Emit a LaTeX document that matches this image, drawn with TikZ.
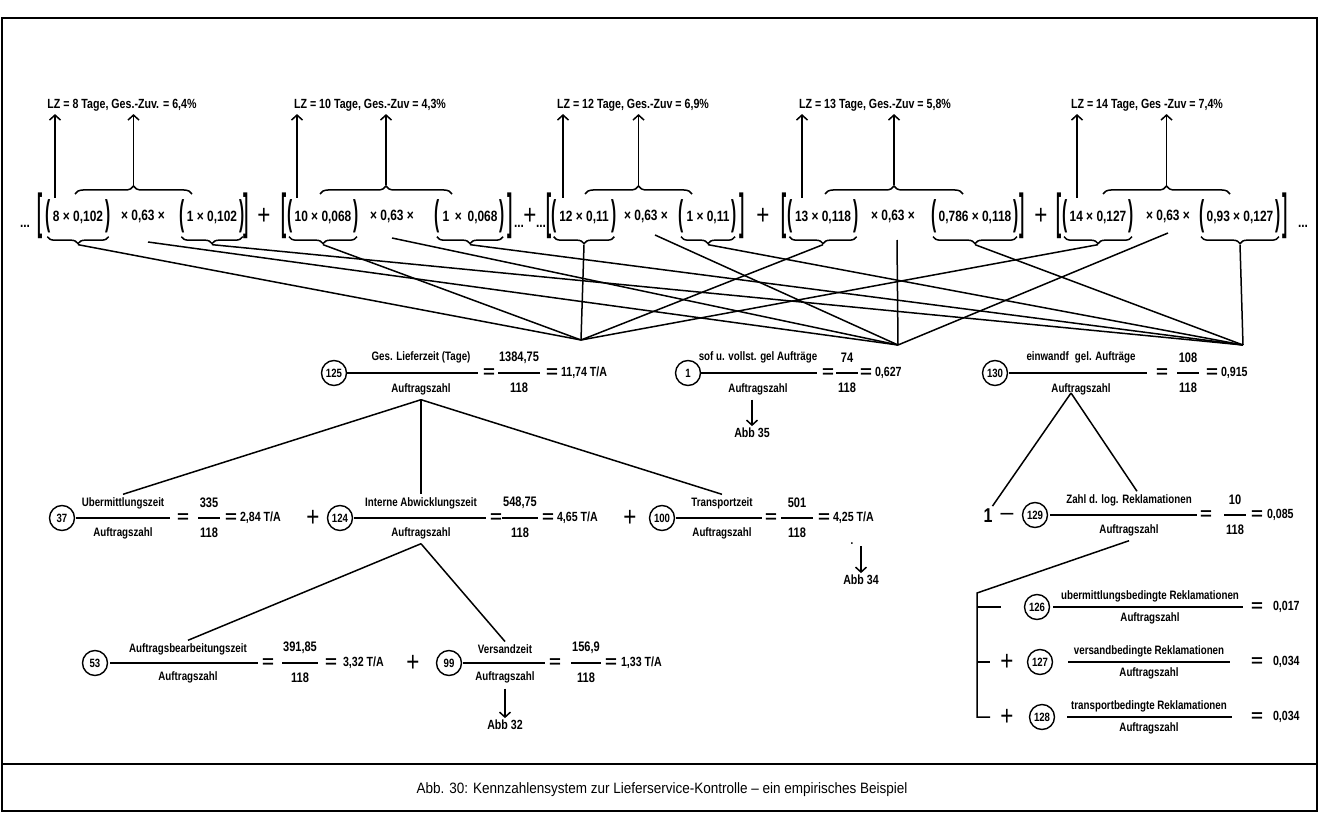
\documentclass[tikz,border=0pt]{standalone}
\usepackage{fix-cm}
\usepackage{fontspec}
\setmainfont{Liberation Sans}[FakeStretch=0.8]
\newfontfamily\bff{Liberation Sans Bold}[FakeStretch=0.8]
\newfontfamily\capfont{Liberation Sans}[FakeStretch=0.9]
\usetikzlibrary{decorations.pathreplacing,arrows.meta}
\newcommand\lp{\raisebox{-4pt}{\scalebox{1.3}[2.4]{(}}}
\newcommand\rp{\raisebox{-4pt}{\scalebox{1.3}[2.4]{)}}}
\newcommand\pp[1]{\lp\,#1\,\rp}
\newcommand\bkl{\raisebox{-7.5pt}{\scalebox{1.3}[3.3]{[}}}
\newcommand\bkr{\raisebox{-7.5pt}{\scalebox{1.3}[3.3]{]}}}
\newcommand\eqs{\scalebox{1.5}[1]{=}}
\tikzset{
  every node/.style={inner sep=0pt,outer sep=0pt},
  ln/.style={line width=1.5pt},
  cn/.style={draw,circle,line width=1.4pt,minimum size=25pt,font=\fontsize{12}{13}\bff},
  tx/.style={font=\fontsize{12.2}{14}\bff},
  num/.style={font=\fontsize{13.8}{15}\bff},
  res/.style={font=\fontsize{13.3}{15}\bff,anchor=west},
  fm/.style={font=\fontsize{14.9}{17}\bff},
  lab/.style={font=\fontsize{13.3}{15}\bff},
  eq/.style={font=\fontsize{17}{17}\bff},
  pl/.style={font=\fontsize{28}{28}\selectfont},
  ar/.style={line width=1.5pt,-{Straight Barb[length=5pt,width=11pt]}},
  lbrace/.style={decorate,decoration={brace,mirror,amplitude=7pt},line width=1.5pt},
  ubrace/.style={decorate,decoration={brace,amplitude=8pt},line width=1.5pt},
}
% fraction with text: name, xc, yline, x1, x2, num, den, offset
\newcommand\kfrac[8]{%
  \draw[ln] (#4,#3) -- (#5,#3);
  \node[tx] (#1n) at (#2,#3-#8) {#6};
  \node[tx] (#1d) at (#2,#3+#8) {#7};}
% numeric fraction: name, xc, yline, halfwidth, num, den
\newcommand\nfrac[6]{%
  \draw[ln] (#2-#4,#3) -- (#2+#4,#3);
  \node[num] (#1n) at (#2,#3-15) {#5};
  \node[num] (#1d) at (#2,#3+15) {#6};}
% group with lower brace: name, x, text
\newcommand\grp[3]{%
  \node[fm] (#1) at (#2,216) {\pp{#3}};
  \draw[lbrace] ([xshift=2pt,yshift=-4pt]#1.south west) -- ([xshift=-2pt,yshift=-4pt]#1.south east);
  \coordinate (#1t) at ([yshift=-12pt]#1.south);}
\begin{document}
\begin{tikzpicture}[x=1pt,y=-1pt]
\fill[white] (0,0) rectangle (1319,813);
\useasboundingbox (0,0) rectangle (1319,813);
% frame
\draw[line width=1.2pt] (2,18) rectangle (1317,811);
\draw[line width=2.2pt] (2,764) -- (1317,764);
\node[font=\fontsize{15}{17}\capfont] (cap) at (662,790) {Abb. 30: Kennzahlensystem zur Lieferservice-Kontrolle – ein empirisches Beispiel};

% ---------- top formula ----------
\node[fm] (d0) at (25,226) {...};
% term 1
\node[fm] (b1l) at (40,216) {\bkl};
\grp{g1a}{78}{8 × 0,102}
\node[fm] (m1) at (143,216) {× 0,63 ×};
\grp{g1b}{212}{1 × 0,102}
\node[fm] (b1r) at (246,216) {\bkr};
\node[pl] (p1) at (264,216) {+};
% term 2
\node[fm] (b2l) at (284,216) {\bkl};
\grp{g2a}{323}{10 × 0,068}
\node[fm] (m2) at (392,216) {× 0,63 ×};
\grp{g2b}{470}{1 \,×\, 0,068}
\node[fm] (b2r) at (510,216) {\bkr};
\node[fm] (d1) at (519,226) {...};
\node[pl] (p2) at (530,216) {+};
\node[fm] (d2) at (541,226) {...};
% term 3
\node[fm] (b3l) at (549,216) {\bkl};
\grp{g3a}{584}{12 × 0,11}
\node[fm] (m3) at (646,216) {× 0,63 ×};
\grp{g3b}{708}{1 × 0,11}
\node[fm] (b3r) at (742,216) {\bkr};
\node[pl] (p3) at (763,216) {+};
% term 4
\node[fm] (b4l) at (784,216) {\bkl};
\grp{g4a}{823}{13 × 0,118}
\node[fm] (m4) at (893,216) {× 0,63 ×};
\grp{g4b}{975}{0,786 × 0,118}
\node[fm] (b4r) at (1022,216) {\bkr};
\node[pl] (p4) at (1041,216) {+};
% term 5
\node[fm] (b5l) at (1059,216) {\bkl};
\grp{g5a}{1098}{14 × 0,127}
\node[fm] (m5) at (1168,216) {× 0,63 ×};
\grp{g5b}{1240}{0,93 × 0,127}
\node[fm] (b5r) at (1285,216) {\bkr};
\node[fm] (d3) at (1303,226) {...};

% upper braces and labels
\node[lab] (L1) at (122,105) {LZ = 8 Tage, Ges.-Zuv. = 6,4\%};
\node[lab] (L2) at (370,105) {LZ = 10 Tage, Ges.-Zuv = 4,3\%};
\node[lab] (L3) at (633,105) {LZ = 12 Tage, Ges.-Zuv = 6,9\%};
\node[lab] (L4) at (875,105) {LZ = 13 Tage, Ges.-Zuv = 5,8\%};
\node[lab] (L5) at (1147,105) {LZ = 14 Tage, Ges -Zuv = 7,4\%};
\foreach \k/\a/\b/\z in {1/75/192/55, 2/320/452/297, 3/585/692/563, 4/825/963/802, 5/1103/1230/1077}{
  \draw[ubrace] (\a,194) -- (\b,194);
  \coordinate (u\k) at ({(\a+\b)/2},185);
  \coordinate (z\k) at (\z,198);
  \draw[ar] (u\k) -- ([yshift=-3pt]u\k |- L\k.south);
  \draw[ar] (z\k) -- ([yshift=-3pt]z\k |- L\k.south);
}

% apexes
\coordinate (A125) at (581,340);
\coordinate (A1) at (898,345);
\coordinate (A130) at (1243,345);
\coordinate (s1) at (148,242);
\coordinate (s2) at (392,238);
\coordinate (s3) at (655,235);
\coordinate (s4) at (897,240);
\coordinate (s5) at (1168,233);
\foreach \k in {1,...,5}{
  \draw[ln] (g\k at) -- (A125);
  \draw[ln] (s\k) -- (A1);
  \draw[ln] (g\k bt) -- (A130);
}

% ---------- row 2 ----------
\node[cn] (c125) at (334,373) {125};
\kfrac{f125}{421}{373}{347}{478}{Ges. Lieferzeit (Tage)}{Auftragszahl}{16}
\node[eq] (e125a) at (489,373) {\eqs};
\nfrac{v125}{519}{373}{21}{1384,75}{118}
\node[eq] (e125b) at (552,373) {\eqs};
\node[res] (r125) at (561,373) {11,74 T/A};

\node[cn] (c1) at (688,373) {1};
\kfrac{f1}{758}{373}{701}{817}{sof u. vollst. gel Aufträge}{Auftragszahl}{16}
\node[eq] (e1a) at (828,373) {\eqs};
\nfrac{v1}{847}{373}{11}{74}{118}
\node[eq] (e1b) at (866,373) {\eqs};
\node[res] (r1) at (875,373) {0,627};
\node[res,anchor=center] (abb35) at (752,433) {Abb 35};
\draw[ar] ([yshift=-5pt]f1d.south -| abb35.north) -- ([yshift=2pt]abb35.north);

\node[cn] (c130) at (995,373) {130};
\kfrac{f130}{1081}{373}{1009}{1147}{einwandf\enspace gel. Aufträge}{Auftragszahl}{16}
\node[eq] (e130a) at (1162,373) {\eqs};
\nfrac{v130}{1188}{373}{11}{108}{118}
\node[eq] (e130b) at (1212,373) {\eqs};
\node[res] (r130) at (1221,373) {0,915};

% ---------- row 3 ----------
\node[cn] (c37) at (62,518) {37};
\kfrac{f37}{123}{518}{76}{170}{Ubermittlungszeit}{Auftragszahl}{15}
\node[eq] (e37a) at (183,518) {\eqs};
\nfrac{v37}{209}{518}{11}{335}{118}
\node[eq] (e37b) at (231,518) {\eqs};
\node[res] (r37) at (240,518) {2,84 T/A};
\node[pl] (q1) at (313,518) {+};

\node[cn] (c124) at (340,518) {124};
\kfrac{f124}{421}{518}{354}{486}{Interne Abwicklungszeit}{Auftragszahl}{15}
\node[eq] (e124a) at (496,518) {\eqs};
\nfrac{v124}{520}{518}{18}{548,75}{118}
\node[eq] (e124b) at (548,518) {\eqs};
\node[res] (r124) at (557,518) {4,65 T/A};
\node[pl] (q2) at (630,518) {+};

\node[cn] (c100) at (662,518) {100};
\kfrac{f100}{722}{518}{676}{762}{Transportzeit}{Auftragszahl}{15}
\node[eq] (e100a) at (771,518) {\eqs};
\nfrac{v100}{797}{518}{16}{501}{118}
\node[eq] (e100b) at (824,518) {\eqs};
\node[res] (r100) at (833,518) {4,25 T/A};
\node[tx] (dot34) at (852,544) {.};
\node[res,anchor=center] (abb34) at (861,580) {Abb 34};
\draw[ar] (abb34.north |- 0,546) -- ([yshift=2pt]abb34.north);

\node[font=\fontsize{20}{20}\bff] (one) at (988,516) {1};
\node[font=\fontsize{16}{16}\bff] (mn) at (1007,516) {—};
\node[cn] (c129) at (1035,515) {129};
\kfrac{f129}{1129}{515}{1050}{1197}{Zahl d. log. Reklamationen}{Auftragszahl}{15}
\node[eq] (e129a) at (1206,515) {\eqs};
\nfrac{v129}{1235}{515}{11}{10}{118}
\node[eq] (e129b) at (1257,515) {\eqs};
\node[res] (r129) at (1267,515) {0,085};

% tree lines row2 -> row3
\draw[ln] ([yshift=-5pt]f125d.south) -- ([yshift=3pt]f37n.north);
\draw[ln] ([yshift=-5pt]f125d.south) -- ([yshift=3pt]f124n.north);
\draw[ln] ([yshift=-5pt]f125d.south) -- ([yshift=3pt]f100n.north);
\coordinate (T130) at (1071,393);
\draw[ln] (T130) -- ([yshift=3pt]one.north east);
\draw[ln] (T130) -- ([xshift=8pt,yshift=3pt]f129n.north);

% ---------- row 4 ----------
\node[cn] (c53) at (95,663) {53};
\kfrac{f53}{188}{663}{110}{258}{Auftragsbearbeitungszeit}{Auftragszahl}{14}
\node[eq] (e53a) at (268,663) {\eqs};
\nfrac{v53}{300}{663}{18}{391,85}{118}
\node[eq] (e53b) at (331,663) {\eqs};
\node[res] (r53) at (343,663) {3,32 T/A};
\node[pl] (q3) at (413,663) {+};

\node[cn] (c99) at (449,663) {99};
\kfrac{f99}{505}{663}{463}{545}{Versandzeit}{Auftragszahl}{14}
\node[eq] (e99a) at (555,663) {\eqs};
\nfrac{v99}{586}{663}{15}{156,9}{118}
\node[eq] (e99b) at (611,663) {\eqs};
\node[res] (r99) at (621,663) {1,33 T/A};
\node[res,anchor=center] (abb32) at (505,725) {Abb 32};
\draw[ar] ([yshift=-6pt]f99d.south) -- ([yshift=2pt]abb32.north);

\draw[ln] ([yshift=-5pt]f124d.south) -- ([yshift=3pt]f53n.north);
\draw[ln] ([yshift=-5pt]f124d.south) -- ([yshift=3pt]f99n.north);

% ---------- right column ----------
\coordinate (K) at (977,593);
\coordinate (K3) at (977,717);
\draw[ln] ([yshift=-5pt]f129d.south) -- (K) -- (K3) -- ++(13,0);
\draw[ln] (977,607) -- (1001,607);
\draw[ln] (977,662) -- (990,662);

\node[cn] (c126) at (1037,607) {126};
\kfrac{f126}{1150}{607}{1053}{1243}{ubermittlungsbedingte Reklamationen}{Auftragszahl}{11}
\node[eq] (e126) at (1257,607) {\eqs};
\node[res] (r126) at (1273,607) {0,017};

\node[pl] (q4) at (1007,662) {+};
\node[cn] (c127) at (1040,662) {127};
\kfrac{f127}{1149}{662}{1068}{1230}{versandbedingte Reklamationen}{Auftragszahl}{11}
\node[eq] (e127) at (1257,662) {\eqs};
\node[res] (r127) at (1273,662) {0,034};

\node[pl] (q5) at (1007,717) {+};
\node[cn] (c128) at (1042,717) {128};
\kfrac{f128}{1149}{717}{1067}{1232}{transportbedingte Reklamationen}{Auftragszahl}{11}
\node[eq] (e128) at (1257,717) {\eqs};
\node[res] (r128) at (1273,717) {0,034};
\end{tikzpicture}
\end{document}
